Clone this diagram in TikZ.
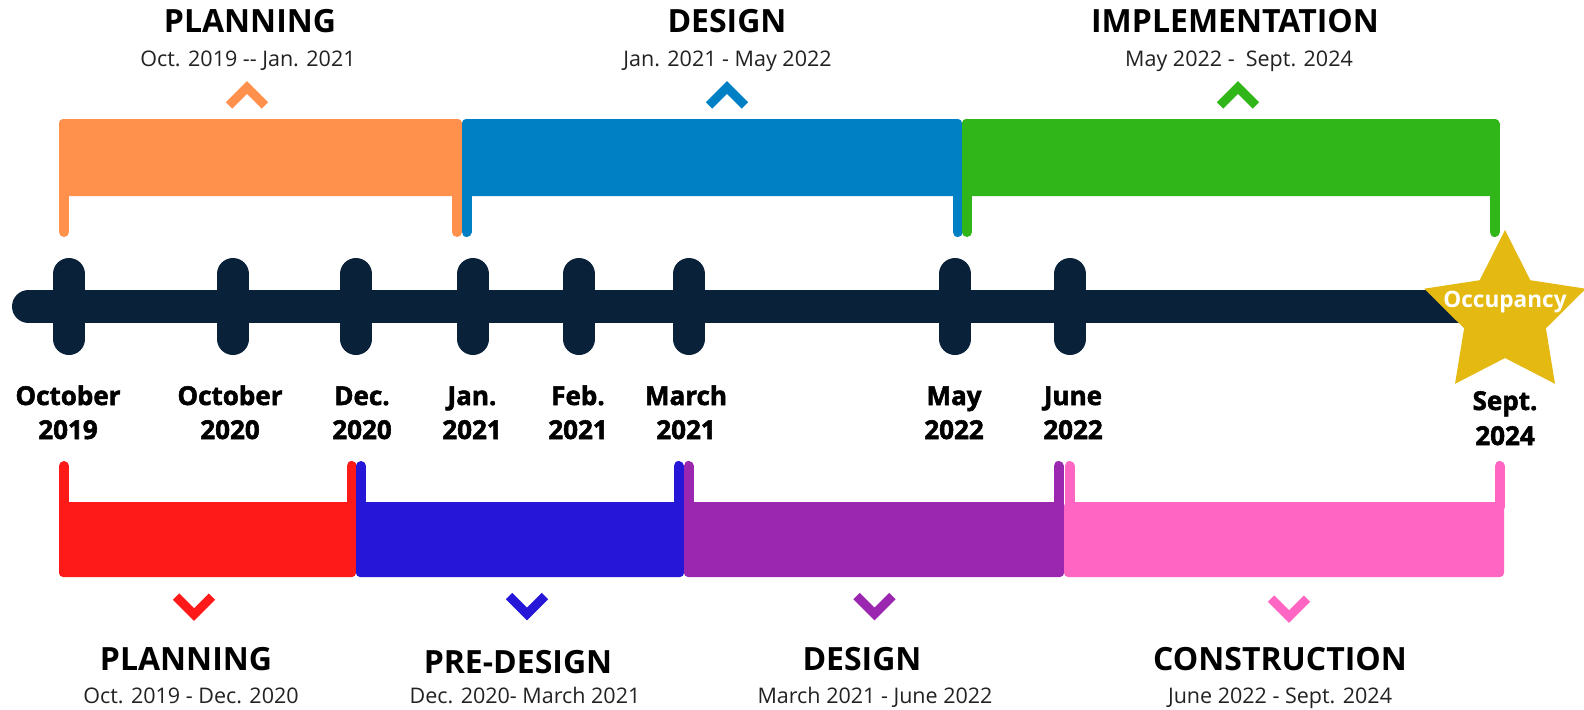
\documentclass[tikz,border=0pt]{standalone}
\usepackage{fontspec}
\setmainfont{Open Sans}
\newfontfamily\heavy{Open Sans}[BoldFeatures={FakeBold=2}]
\definecolor{navy}{HTML}{0A2239}
\definecolor{corange}{HTML}{FF914D}
\definecolor{cblue}{HTML}{0080C4}
\definecolor{cgreen}{HTML}{31B61A}
\definecolor{cred}{HTML}{FF1A1A}
\definecolor{cviolet}{HTML}{2617D8}
\definecolor{cpurple}{HTML}{9B27B1}
\definecolor{cpink}{HTML}{FF66C4}
\definecolor{cgold}{HTML}{E4B912}
\definecolor{subgray}{HTML}{222222}
\tikzset{
  title/.style={font=\bfseries\fontsize{16}{19}\selectfont, anchor=base, inner sep=0pt, text=black},
  sub/.style={font=\fontsize{10.75}{13}\selectfont, anchor=base, inner sep=0pt, text=subgray},
  tlab/.style={font=\heavy\bfseries\fontsize{13}{15}\selectfont, anchor=base, inner sep=0pt, text=black},
  chev/.style={line width=4.5pt, miter limit=10},
  leg/.style={line width=5pt, line cap=round},
  body/.style={rounded corners=2pt},
  tick/.style={line width=16pt, line cap=round, draw=navy},
}
\begin{document}
\begin{tikzpicture}[x=0.5pt, y=-0.5pt]
\useasboundingbox (0,0) rectangle (1584,709);
\fill[white] (0,0) rectangle (1584,709);

% ---------- top phase bars ----------
% orange
\fill[corange, body] (59,119) rectangle (462,196);
\draw[leg, corange] (64,190) -- (64,232);
\draw[leg, corange] (457,190) -- (457,232);
% blue
\fill[cblue, body] (462,119) rectangle (962,196);
\draw[leg, cblue] (466.5,190) -- (466.5,232);
\draw[leg, cblue] (957.5,190) -- (957.5,232);
% green
\fill[cgreen, body] (962,119) rectangle (1499,196);
\draw[leg, cgreen] (967,190) -- (967,232);
\draw[leg, cgreen] (1494.5,124) -- (1494.5,232);

% top chevrons
\draw[chev, corange] (229,105.4) -- (247,87.4) -- (265,105.4);
\draw[chev, cblue] (709,105.4) -- (727,87.4) -- (745,105.4);
\draw[chev, cgreen] (1220,105.4) -- (1238,87.4) -- (1256,105.4);

% top texts
\node[title] (tplan) at (250,32) {PLANNING};
\node[sub] (tplans) at (248,66) {Oct. 2019 -{}- Jan. 2021};
\node[title] (tdes) at (727,32) {DESIGN};
\node[sub] (tdess) at (727.5,66) {Jan. 2021 - May 2022};
\node[title] (timp) at (1235,32) {IMPLEMENTATION};
\node[sub] (timps) at (1239,66) {May 2022 -\ \ Sept. 2024};

% ---------- timeline ----------
\draw[line width=16.5pt, line cap=round, navy] (28.5,306.5) -- (1490,306.5);
\foreach \x/\n in {69/a,233/b,356/c,473/d,579/e,689/f,955/g,1070/h}{
  \coordinate (t\n) at (\x,306.5);
  \draw[tick] (\x,274) -- (\x,339);
}

% star
\fill[cgold] (1505,230) -- (1530.3,280.2) -- (1585.8,288.7) -- (1545.9,328.3)
  -- (1555,383.8) -- (1505,358) -- (1455,383.8) -- (1464.1,328.3)
  -- (1424.2,288.7) -- (1479.7,280.2) -- cycle;
\node[font=\bfseries\fontsize{11.3}{13}\selectfont, text=white, anchor=base, inner sep=0pt] (occ) at (1505,307) {Occupancy};

% tick labels
\node[tlab] (l1a) at (68,405) {October};
\node[tlab] (l1b) at (68,439) {2019};
\node[tlab] (l2a) at (230,405) {October};
\node[tlab] (l2b) at (230,439) {2020};
\node[tlab] (l3a) at (362,405) {Dec.};
\node[tlab] (l3b) at (362,439) {2020};
\node[tlab] (l4a) at (472,405) {Jan.};
\node[tlab] (l4b) at (472,439) {2021};
\node[tlab] (l5a) at (578,405) {Feb.};
\node[tlab] (l5b) at (578,439) {2021};
\node[tlab] (l6a) at (686,405) {March};
\node[tlab] (l6b) at (686,439) {2021};
\node[tlab] (l7a) at (954,405) {May};
\node[tlab] (l7b) at (954,439) {2022};
\node[tlab] (l8a) at (1073,405) {June};
\node[tlab] (l8b) at (1073,439) {2022};
\node[tlab] (l9a) at (1505,410) {Sept.};
\node[tlab] (l9b) at (1505,445) {2024};

% ---------- bottom phase bars ----------
% red
\fill[cred, body] (59,502) rectangle (356,577);
\draw[leg, cred] (64,466) -- (64,507);
\draw[leg, cred] (351.5,466) -- (351.5,507);
% violet
\fill[cviolet, body] (356,502) rectangle (684,577);
\draw[leg, cviolet] (361,466) -- (361,507);
\draw[leg, cviolet] (678.5,466) -- (678.5,507);
% purple
\fill[cpurple, body] (684,502) rectangle (1064,577);
\draw[leg, cpurple] (688.5,466) -- (688.5,507);
\draw[leg, cpurple] (1058.5,466) -- (1058.5,507);
% pink
\fill[cpink, body] (1064,502) rectangle (1504,577);
\draw[leg, cpink] (1069.5,466) -- (1069.5,507);
\draw[leg, cpink] (1499.5,466) -- (1499.5,507);

% bottom chevrons
\draw[chev, cred] (176,596.6) -- (194,614.6) -- (212,596.6);
\draw[chev, cviolet] (509,596) -- (527,614) -- (545,596);
\draw[chev, cpurple] (856.5,596) -- (874.5,614) -- (892.5,596);
\draw[chev, cpink] (1271,598.6) -- (1289,616.6) -- (1307,598.6);

% bottom texts
\node[title] (bplan) at (186,670) {PLANNING};
\node[sub] (bplans) at (191,703) {Oct. 2019 - Dec. 2020};
\node[title] (bpre) at (518,673) {PRE-DESIGN};
\node[sub] (bpres) at (525,703) {Dec. 2020- March 2021};
\node[title] (bdes) at (862,670) {DESIGN};
\node[sub] (bdess) at (875,703) {March 2021 - June 2022};
\node[title] (bcon) at (1280,670) {CONSTRUCTION};
\node[sub] (bcons) at (1280,703) {June 2022 - Sept. 2024};
\end{tikzpicture}
\end{document}
